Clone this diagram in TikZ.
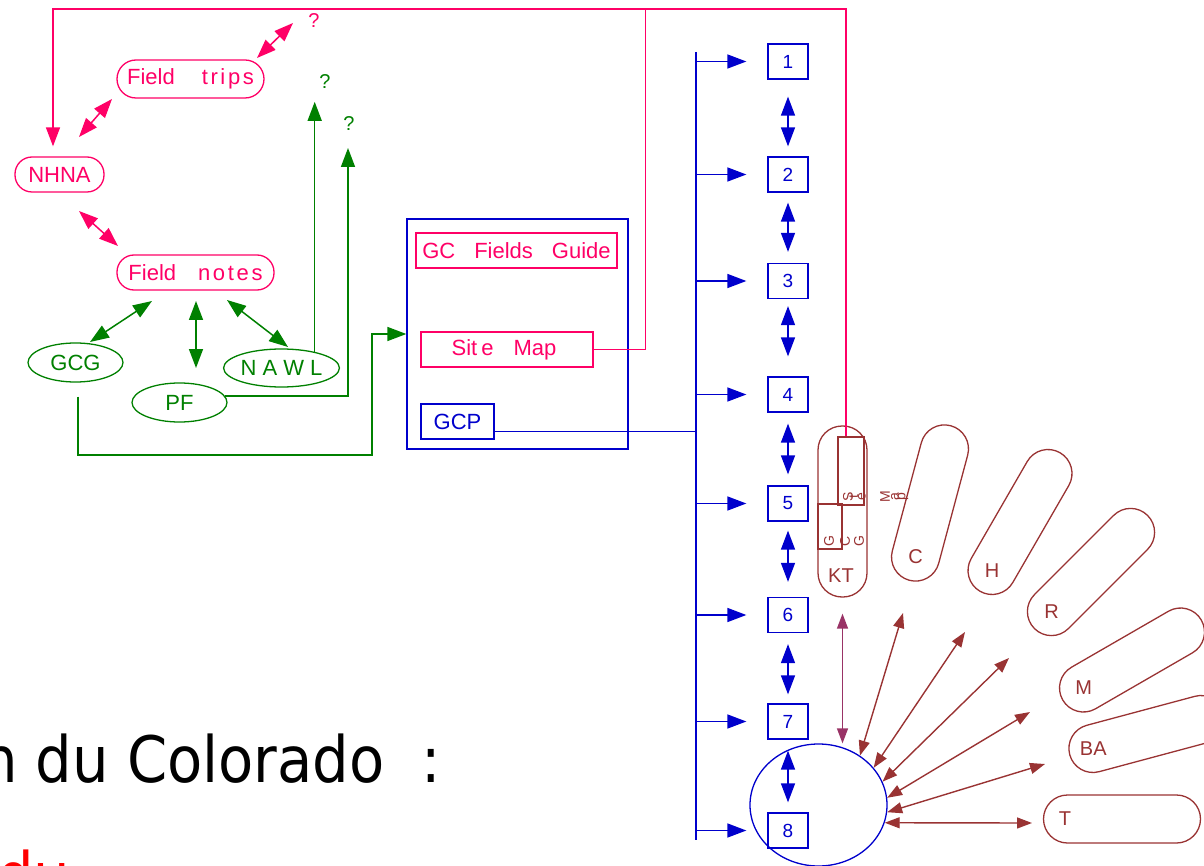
\documentclass[tikz,border=0pt]{standalone}
\usepackage{fontspec}
\setmainfont{Liberation Sans}
\newfontfamily\spfont[LetterSpace=12]{Liberation Sans}
\newfontfamily\condfont{DejaVu Sans Condensed}
\usetikzlibrary{arrows.meta,shapes.geometric,calc}
\definecolor{pinkc}{RGB}{255,0,102}
\definecolor{greenc}{RGB}{0,128,0}
\definecolor{bluec}{RGB}{0,0,204}
\definecolor{brownc}{RGB}{153,51,51}
\definecolor{purplec}{RGB}{153,51,102}
\begin{document}
\begin{tikzpicture}[x=1pt,y=-1pt,
  every node/.style={inner sep=0pt},
  lab/.style={font=\fontsize{22}{26}\selectfont},
  pinkbox/.style={lab,draw=pinkc,text=pinkc,line width=1.3pt},
  pinkpill/.style={pinkbox,rounded corners=#1},
  greenell/.style={lab,ellipse,draw=greenc,text=greenc,line width=1.3pt},
  bluebox/.style={lab,draw=bluec,text=bluec,line width=1.3pt},
  numbox/.style={draw=bluec,text=bluec,line width=1.3pt,minimum width=40pt,minimum height=35pt,font=\fontsize{19}{21}\selectfont},
  fan/.style={draw=brownc,line width=1.3pt,minimum width=160pt,minimum height=48pt,rounded corners=24pt},
  fanlab/.style={text=brownc,font=\fontsize{20}{22}\selectfont},
  minilab/.style={text=brownc,font=\fontsize{14}{15}\selectfont,rotate=90},
  qpink/.style={text=pinkc,font=\fontsize{20}{22}\selectfont},
  qgreen/.style={text=greenc,font=\fontsize{20}{22}\selectfont},
  pl/.style={draw=pinkc,line width=1.5pt},
  gl/.style={draw=greenc,line width=1.5pt},
  bl/.style={draw=bluec,line width=1.5pt},
  brl/.style={draw=brownc,line width=1.4pt},
  sgl/.style={-{Triangle[length=19pt,width=14pt]}},
  dbl/.style={{Triangle[length=19pt,width=14pt]}-{Triangle[length=19pt,width=14pt]}},
  sdbl/.style={{Triangle[length=15pt,width=11pt]}-{Triangle[length=15pt,width=11pt]}}
]
\useasboundingbox (0,0) rectangle (1204,866);

% ---- pink nodes
\node[pinkpill=17pt,minimum width=89pt,minimum height=35pt] (NHNA) at (59.5,174.5) {NHNA};
\node[pinkpill=19pt,minimum width=147pt,minimum height=38pt] (FT) at (190.5,79) {Field\hspace{27pt}{\spfont trips}};
\node[pinkpill=17pt,minimum width=157pt,minimum height=35pt] (FN) at (195.5,272.5) {Field\hspace{22pt}{\spfont notes}};
\node[qpink] (q1) at (314,21) {?};

% ---- green nodes
\node[greenell,minimum width=95pt,minimum height=39pt] (GCG) at (75.5,362.5) {GCG};
\node[greenell,minimum width=101pt,minimum height=38pt] (NAWL) at (281.5,368) {N A W L};
\node[greenell,minimum width=95pt,minimum height=39pt] (PF) at (179.5,402.5) {PF};
\node[qgreen] (q2) at (325,82) {?};
\node[qgreen] (q3) at (349,124) {?};

% ---- big box
\node[draw=bluec,line width=1.3pt,minimum width=221pt,minimum height=230pt] (GCbox) at (517.5,334) {};
\node[pinkbox,minimum width=201pt,minimum height=35pt] (GCFG) at (516.5,250.5) {GC\hspace{19pt}Fields\hspace{19pt}Guide};
\node[pinkbox,minimum width=172pt,minimum height=35pt] (SM) at (507,349.5) {\hspace{-6pt}Sit\hspace{4pt}e\hspace{20pt}Map};
\node[bluebox,minimum width=73pt,minimum height=35pt] (GCP) at (457.5,421.5) {GCP};

% ---- number boxes
\foreach \i/\y in {1/61.5,2/174.5,3/281,4/394.5,5/503.5,6/615,7/721.5,8/830.5}
  \node[numbox] (b\i) at (788,\y) {\i};
\coordinate (sT) at (696,52);
\coordinate (sB) at (696,840);
\draw[bl] (sT) -- (sB);
\foreach \i in {1,...,8}
  \draw[bl,sgl,shorten >=21pt] (sT |- b\i) -- (b\i.west);
\draw[bl,dbl,shorten <=17pt,shorten >=10pt] (b1) -- (b2);
\draw[bl,dbl,shorten <=10pt,shorten >=11pt] (b2) -- (b3);
\draw[bl,dbl,shorten <=7pt,shorten >=20pt] (b3) -- (b4);
\draw[bl,dbl,shorten <=11pt,shorten >=11pt] (b4) -- (b5);
\draw[bl,dbl,shorten <=9pt,shorten >=15pt] (b5) -- (b6);
\draw[bl,dbl,shorten <=11pt,shorten >=9pt] (b6) -- (b7);
\draw[bl,dbl,shorten <=11pt,shorten >=10pt] (b7) -- (b8);

% ---- circle
\node[ellipse,draw=bluec,line width=1.3pt,minimum width=137pt,minimum height=122pt] (circ) at (818.5,805) {};

% ---- KT
\node[draw=brownc,line width=1.3pt,minimum width=49pt,minimum height=171pt,rounded corners=24pt] (KT) at (842.5,511.5) {};
\node[fanlab] (KTl) at (841,576) {KT};
\node[draw=brownc,line width=1.1pt,minimum width=26pt,minimum height=68pt] (SMm) at (851,471) {};
\node[draw=brownc,line width=1.1pt,minimum width=24pt,minimum height=45pt] (GCGm) at (830,526.5) {};
\foreach \c/\x in {S/848,t/854,e/862,M/885,a/895,p/903}
  \node[minilab] at (\x,497) {\c};
\foreach \c/\x in {G/829,C/845,G/859}
  \node[minilab] at (\x,541) {\c};

% ---- fan shapes
\node[fan,rotate=75] (C) at (930,503) {};
\node[fanlab] at ($(C.center)!0.69!(C.west)$) {C};
\node[fan,rotate=60] (H) at (1020,522) {};
\node[fanlab] at ($(H.center)!0.69!(H.west)$) {H};
\node[fan,rotate=45] (R) at (1091,572) {};
\node[fanlab] at ($(R.center)!0.69!(R.west)$) {R};
\node[fan,rotate=30] (M) at (1132,660) {};
\node[fanlab] at ($(M.center)!0.69!(M.west)$) {M};
\node[fan,rotate=15] (BA) at (1147,734) {};
\node[fanlab] at ($(BA.center)!0.69!(BA.west)$) {BA};
\node[fan,minimum width=157pt] (T) at (1122,819) {};
\node[fanlab] at ($(T.center)!0.72!(T.west)$) {T};

% ---- brown arrows
\coordinate (tC) at (903,613);
\coordinate (tH) at (965,632);
\coordinate (tR) at (1009,658);
\coordinate (tM) at (1030,712);
\coordinate (tBA) at (1045,764);
\coordinate (tT) at (1032,823);
\draw[brl,sdbl] (circ.50) -- (tC);
\draw[brl,sdbl] (circ.34) -- (tH);
\draw[brl,sdbl] (circ.20) -- (tR);
\draw[brl,sdbl] (circ.6) -- (tM);
\draw[brl,sdbl] (circ.-6) -- (tBA);
\draw[brl,sdbl] (circ.-15) -- (tT);
\draw[draw=purplec,line width=1.4pt,sdbl,shorten <=16pt] (KT.south) -- (KT.south |- circ.north);

% ---- pink connectors
\coordinate (pTL) at (53,9);
\coordinate (pTM) at (645.5,9);
\coordinate (pTR) at (846,9);
\draw[pl,sgl,shorten >=10pt] (SM.east) -| (pTM) -- (pTL) -- (pTL |- NHNA.north);
\draw[pl] (pTM) -- (pTR) -- (pTR |- SMm.north);
\coordinate (fq1) at (257,58);
\coordinate (fq2) at (293,23);
\draw[pl,dbl] (fq1) -- (fq2);
\coordinate (fn1) at (112,99);
\coordinate (fn2) at (79,137);
\draw[pl,dbl] (fn1) -- (fn2);
\coordinate (nf1) at (79,211);
\coordinate (nf2) at (118,246);
\draw[pl,dbl] (nf1) -- (nf2);

% ---- green connectors
\coordinate (ga1) at (152,301);
\coordinate (ga2) at (90,342);
\draw[gl,dbl] (ga1) -- (ga2);
\coordinate (gb1) at (196,301);
\coordinate (gb2) at (196,368);
\draw[gl,dbl] (gb1) -- (gb2);
\coordinate (gc1) at (227,300);
\coordinate (gc2) at (288,347);
\draw[gl,dbl] (gc1) -- (gc2);
\draw[gl,sgl] (NAWL.26) -- ++(0,-250);
\coordinate (pq) at (348,148);
\draw[gl,sgl] (PF.8) -| (pq);
\coordinate (g2) at (372,455);
\draw[gl,sgl] (GCG.south) ++(2.5,14) |- (g2) |- (GCbox.west);

% ---- blue connector
\draw[bl] (GCP.-15) -- (GCP.-15 -| sT);

% ---- bottom text
\node[anchor=base west,font=\condfont\fontsize{64}{70}\selectfont] (cap) at (-19,782) {n du Colorado\ \ :};
\node[anchor=base west,font=\condfont\fontsize{64}{70}\selectfont,text=red] (du) at (-3,898) {du};
\end{tikzpicture}
\end{document}
